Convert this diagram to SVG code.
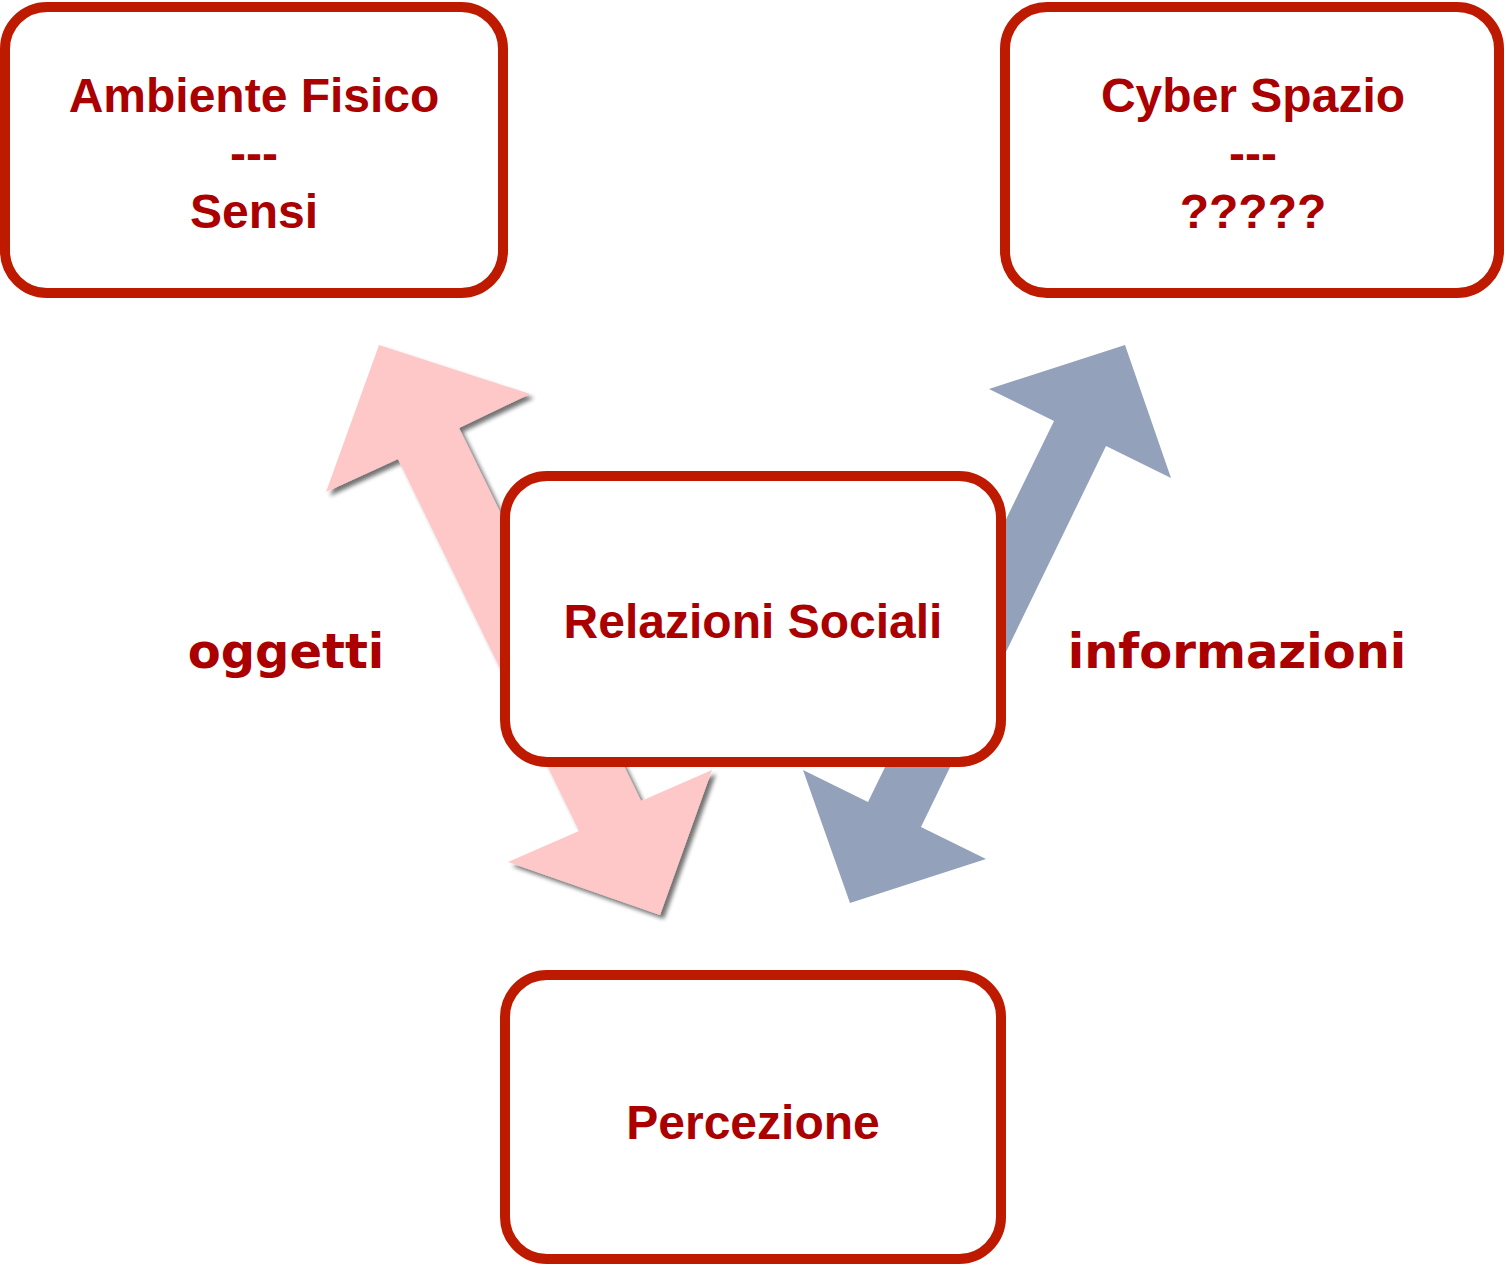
<svg xmlns="http://www.w3.org/2000/svg" width="1506" height="1266" viewBox="0 0 1506 1266">
<style>
.box{fill:#fff;stroke:#BE1A00;stroke-width:10}
.nt{font-family:"Liberation Sans",Arial,sans-serif;font-weight:bold;font-size:48px;fill:#AA0000;text-anchor:middle}
.lbl{font-family:"DejaVu Sans",Verdana,sans-serif;font-weight:bold;font-size:48px;fill:#AA0000;text-anchor:middle}
.pink{fill:#FFC8C8}
.blue{fill:#94A1BA}
</style>
<defs>
<filter id="sh" x="-20%" y="-20%" width="140%" height="140%">
<feGaussianBlur in="SourceAlpha" stdDeviation="2"/>
<feOffset dx="4" dy="4" result="b"/>
<feComponentTransfer><feFuncA type="linear" slope="0.55"/></feComponentTransfer>
<feMerge><feMergeNode/><feMergeNode in="SourceGraphic"/></feMerge>
</filter>
</defs>
<rect width="1506" height="1266" fill="#fff"/>
<g id="connectors">
<polygon class="pink" filter="url(#sh)" points="379,345 530,394 459,428 641,801 712,770 660,915 508,862 579,831 398,459 326,492"/>
<polygon class="blue" points="1125,345 1171,478 1106,446 921,827 986,859 850,903 803,770 868,802 1054,421 989,389"/>
</g>
<g id="node-ambiente">
<rect class="box" x="5" y="7" width="498" height="286" rx="42"/>
<text class="nt" x="254" y="112">Ambiente Fisico</text>
<text class="nt" x="254" y="170">---</text>
<text class="nt" x="254" y="228">Sensi</text>
</g>
<g id="node-cyber">
<rect class="box" x="1005" y="7" width="494" height="286" rx="42"/>
<text class="nt" x="1253" y="112">Cyber Spazio</text>
<text class="nt" x="1253" y="170">---</text>
<text class="nt" x="1253" y="228">?????</text>
</g>
<g id="node-relazioni">
<rect class="box" x="505" y="476" width="496" height="286" rx="42"/>
<text class="nt" x="753" y="638">Relazioni Sociali</text>
</g>
<g id="node-percezione">
<rect class="box" x="505" y="975" width="496" height="284" rx="42"/>
<text class="nt" x="753" y="1139">Percezione</text>
</g>
<g id="labels">
<text class="lbl" x="286" y="668">oggetti</text>
<text class="lbl" x="1237" y="668">informazioni</text>
</g>
</svg>
